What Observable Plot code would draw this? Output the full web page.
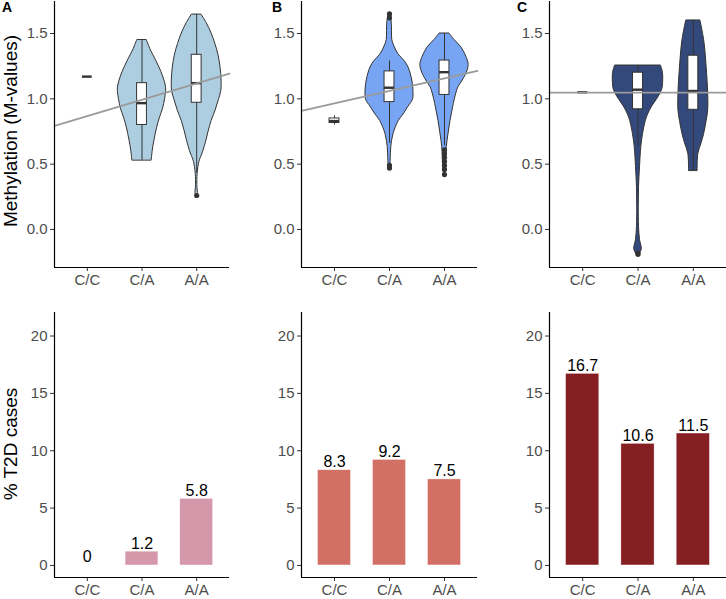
<!DOCTYPE html>
<html>
<head>
<meta charset="utf-8">
<script src="https://cdn.jsdelivr.net/npm/d3@7"></script>
<script src="https://cdn.jsdelivr.net/npm/@observablehq/plot@0.6"></script>
<style>
  body { margin: 0; background: #fff; font-family: "Liberation Sans", Arial, sans-serif; }
  #chart { position: relative; width: 726px; height: 599px; overflow: hidden; }
  .panel { position: absolute; }
  .ytitle { position: absolute; transform: translate(-50%, -50%) rotate(-90deg); white-space: nowrap; font-size: 19px; color: #000; }
  .tag { position: absolute; font-weight: bold; font-size: 14px; color: #000; }
</style>
</head>
<body>
<div id="chart"></div>
<script>
// ---------- data ----------
const genotypes = ["C/C", "C/A", "A/A"];
const methylTicks = [0, 0.5, 1.0, 1.5];
const t2dTicks = [0, 5, 10, 15, 20];
const panelTags = ["A", "B", "C"];

// Violin outlines: [M-value, relative density]
const violinA_CA = [[0.53,0.39],[0.60,0.43],[0.68,0.50],[0.78,0.61],[0.86,0.73],[0.92,0.84],[1.00,0.93],[1.08,0.97],[1.17,0.85],[1.24,0.70],[1.30,0.55],[1.37,0.36],[1.45,0.19]];
const violinA_AA = [[0.26,0.02],[0.28,0.05],[0.32,0.03],[0.40,0.03],[0.45,0.05],[0.50,0.09],[0.53,0.13],[0.60,0.27],[0.68,0.39],[0.75,0.48],[0.83,0.60],[0.91,0.76],[0.99,0.89],[1.06,0.99],[1.14,1.0],[1.24,0.96],[1.34,0.87],[1.42,0.75],[1.50,0.60],[1.58,0.40],[1.645,0.19]];
const violinB_CA = [[0.465,0.02],[0.50,0.04],[0.55,0.05],[0.63,0.07],[0.73,0.16],[0.83,0.37],[0.88,0.56],[0.94,0.76],[0.99,0.93],[1.04,0.96],[1.14,0.91],[1.24,0.76],[1.29,0.60],[1.34,0.36],[1.40,0.20],[1.45,0.11],[1.52,0.10],[1.60,0.08],[1.65,0.02]];
const violinB_AA = [[0.42,0.02],[0.47,0.05],[0.55,0.07],[0.63,0.09],[0.73,0.16],[0.83,0.24],[0.91,0.32],[0.96,0.37],[1.04,0.47],[1.09,0.56],[1.14,0.73],[1.22,0.93],[1.27,0.96],[1.34,0.83],[1.395,0.67],[1.45,0.40],[1.50,0.20]];
const violinC_CA = [[-0.20,0.01],[-0.19,0.06],[-0.15,0.15],[-0.08,0.08],[0.02,0.04],[0.17,0.03],[0.32,0.04],[0.48,0.08],[0.63,0.13],[0.73,0.20],[0.83,0.31],[0.88,0.40],[0.94,0.56],[1.00,0.77],[1.07,0.96],[1.14,1.0],[1.20,0.99],[1.255,0.91]];
const violinC_AA = [[0.45,0.17],[0.58,0.20],[0.66,0.33],[0.73,0.43],[0.83,0.53],[0.91,0.59],[1.04,0.59],[1.24,0.53],[1.45,0.43],[1.60,0.28]];

// Box statistics per genotype: [lower whisker, Q1, median, Q3, upper whisker]
const boxA = [[1.17,1.17,1.17,1.17,1.17],[0.53,0.80,0.967,1.12,1.45],[0.43,0.97,1.12,1.337,1.645]];
const boxB = [[0.80,0.815,0.83,0.85,0.87],[0.66,0.975,1.085,1.21,1.29],[0.64,1.03,1.204,1.293,1.50]];
const boxC = [[1.05,1.05,1.05,1.05,1.05],[0.63,0.92,1.07,1.20,1.255],[0.45,0.916,1.06,1.33,1.60]];

// Outliers: [genotype, M-value]
const outliersA = [["A/A",0.26]];
const outliersB = [["C/A",1.65],["C/A",1.62],["C/A",0.47],["C/A",0.49],["A/A",0.61],["A/A",0.58],["A/A",0.55],["A/A",0.52],["A/A",0.49],["A/A",0.46],["A/A",0.42]];
const outliersC = [["C/A",-0.18],["C/A",-0.19]];

// Linear trend: [intercept, slope per genotype step]
const trendA = [0.743, 0.125];
const trendB = [0.870, 0.0956];
const trendC = [1.048, 0];

// % T2D cases
const t2dA = [0, 1.2, 5.8];
const t2dB = [8.3, 9.2, 7.5];
const t2dC = [16.7, 10.6, 11.5];

// ---------- styles / layout ----------
const violinFills = ["#adcde0", "#78a5f3", "#34497b"];
const barFills = ["#d498aa", "#d27065", "#861f22"];
const panelLeft = [0, 242, 484];
const margins = [[54, 13], [59, 7], [65, 0]];
const xDomain = [0.4, 3.6];
const yMethyl = [-0.291, 1.745];
const yT2D = [-1.05, 22.05];
const dark = "#333";
const font = {fontFamily: "'Liberation Sans', Arial, sans-serif", fontSize: "15px", background: "transparent"};

const chart = document.getElementById("chart");

function place(node, left, top) {
  const wrap = document.createElement("div");
  wrap.className = "panel";
  wrap.style.left = left + "px";
  wrap.style.top = top + "px";
  wrap.appendChild(node);
  chart.appendChild(wrap);
}

function axes(yTicks, yFmt, yDom) {
  return [
    Plot.axisY({ticks: yTicks, tickFormat: yFmt, tickSize: 4, tickPadding: 3, fill: "#4d4d4d", stroke: dark, label: null}),
    Plot.axisX({ticks: [1, 2, 3], tickFormat: i => genotypes[i - 1], tickSize: 4, tickPadding: 3, fill: "#4d4d4d", stroke: dark, label: null}),
    Plot.ruleX([xDomain[0]], {stroke: "#000", strokeWidth: 1.2}),
    Plot.ruleY([yDom[0]], {stroke: "#000", strokeWidth: 1.2})
  ];
}

function violinPanel(p, profiles, box, outliers, trend) {
  const W = 0.455;
  const areaRows = profiles.flatMap((prof, i) => prof ? prof.map(([v, d]) => ({g: i + 1, v, x1: i + 1 - d * W, x2: i + 1 + d * W})) : []);
  const boxRows = box.map((s, i) => ({g: i + 1, lo: s[0], q1: s[1], med: s[2], q3: s[3], hi: s[4]}));
  const outRows = outliers.map(([g, v]) => ({g: genotypes.indexOf(g) + 1, v}));
  const trendRows = xDomain.map(x => ({x, y: trend[0] + trend[1] * x}));
  const bw = 0.09;
  const svg = Plot.plot({
    width: 242, height: 300,
    marginLeft: margins[p][0], marginRight: margins[p][1], marginTop: 1, marginBottom: 33,
    style: font,
    x: {domain: xDomain},
    y: {domain: yMethyl},
    marks: [
      Plot.areaX(areaRows, {x1: "x1", x2: "x2", y: "v", z: "g", fill: violinFills[p], stroke: dark, strokeWidth: 1, curve: "catmull-rom"}),
      Plot.ruleX(boxRows, {x: "g", y1: "lo", y2: "q1", stroke: dark, strokeWidth: 1}),
      Plot.ruleX(boxRows, {x: "g", y1: "q3", y2: "hi", stroke: dark, strokeWidth: 1}),
      Plot.rect(boxRows, {x1: d => d.g - bw, x2: d => d.g + bw, y1: "q1", y2: "q3", fill: "white", stroke: dark, strokeWidth: 1}),
      Plot.ruleY(boxRows, {y: "med", x1: d => d.g - bw, x2: d => d.g + bw, stroke: dark, strokeWidth: 2.4}),
      Plot.dot(outRows, {x: "g", y: "v", r: 2.6, fill: dark, stroke: null}),
      Plot.line(trendRows, {x: "x", y: "y", stroke: "#9a9a9a", strokeWidth: 1.7}),
      ...axes(methylTicks, d3.format(".1f"), yMethyl)
    ]
  });
  place(svg, panelLeft[p], 0);
}

function barPanel(p, values) {
  const rows = values.map((v, i) => ({g: i + 1, v}));
  const svg = Plot.plot({
    width: 242, height: 299,
    marginLeft: margins[p][0], marginRight: margins[p][1], marginTop: 12, marginBottom: 22,
    style: font,
    x: {domain: xDomain},
    y: {domain: yT2D},
    marks: [
      Plot.rectY(rows, {x1: d => d.g - 0.3, x2: d => d.g + 0.3, y1: 0, y2: "v", fill: barFills[p], stroke: "white", strokeWidth: 0.6, strokeOpacity: 0.6}),
      Plot.text(rows, {x: "g", y: "v", text: d => String(d.v), lineAnchor: "bottom", dy: -3, fill: "#000", fontSize: 16}),
      ...axes(t2dTicks, d => String(d), yT2D)
    ]
  });
  place(svg, panelLeft[p], 300);
}

violinPanel(0, [null, violinA_CA, violinA_AA], boxA, outliersA, trendA);
violinPanel(1, [null, violinB_CA, violinB_AA], boxB, outliersB, trendB);
violinPanel(2, [null, violinC_CA, violinC_AA], boxC, outliersC, trendC);
barPanel(0, t2dA);
barPanel(1, t2dB);
barPanel(2, t2dC);

// titles and panel tags
function addText(cls, text, left, top) {
  const d = document.createElement("div");
  d.className = cls;
  d.textContent = text;
  d.style.left = left + "px";
  d.style.top = top + "px";
  chart.appendChild(d);
}
addText("ytitle", "Methylation (M-values)", 11, 131);
addText("ytitle", "% T2D cases", 11, 444);
const tagX = [2, 272, 517];
panelTags.forEach((t, i) => addText("tag", t, tagX[i], -1));
</script>
</body>
</html>
